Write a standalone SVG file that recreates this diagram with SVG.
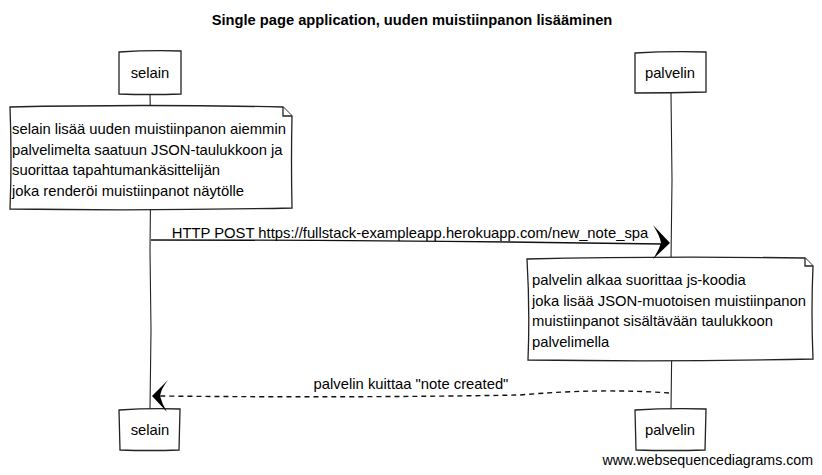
<svg xmlns="http://www.w3.org/2000/svg" width="822" height="475" viewBox="0 0 822 475">
<style>
  text { font-family: "Liberation Sans", Arial, sans-serif; font-size: 14.8px; fill: #000; }
  .title { font-size: 14.7px; font-weight: bold; }
  .foot { font-size: 14.2px; }
  .box { fill: #fff; stroke: #222; stroke-width: 1.3; }
  .life { fill: none; stroke: #222; stroke-width: 1.1; }
  .msg { fill: none; stroke: #111; stroke-width: 1.4; }
  .dash { stroke-dasharray: 5 4; }
  .head { fill: #000; stroke: none; }
  .c { text-anchor: middle; }
</style>
<rect width="822" height="475" fill="#fff"/>
<text class="title c" x="412" y="25">Single page application, uuden muistiinpanon lisääminen</text>

<g id="lifelines">
  <path class="life" d="M150,94 L151,150 L150,250 L151,330 L150,409"/>
  <path class="life" d="M671,93 L672,180 L671,260 L672,330 L671,409"/>
</g>

<g id="selain-top">
  <path class="box" d="M119,52 Q150,50 181,51 L181,94 Q150,95 119,94 Z"/>
  <text class="c" x="150" y="78">selain</text>
</g>
<g id="palvelin-top">
  <path class="box" d="M635,53 Q670,51 706,52 L706,92 Q670,93 635,93 Z"/>
  <text class="c" x="670" y="78">palvelin</text>
</g>

<g id="note-selain">
  <path class="box" d="M10,107 Q140,104 283,107 L292,116 Q291,160 292,208 Q150,211 10,209 Q12,160 10,107 Z"/>
  <path class="box" d="M283,107 L283,116 L292,116"/>
  <text x="12" y="134">selain lisää uuden muistiinpanon aiemmin</text>
  <text x="12" y="155">palvelimelta saatuun JSON-taulukkoon ja</text>
  <text x="12" y="175">suorittaa tapahtumankäsittelijän</text>
  <text x="12" y="196">joka renderöi muistiinpanot näytölle</text>
</g>

<g id="note-palvelin">
  <path class="box" d="M527,259 Q660,256 805,258 L813,266 Q811,310 813,359 Q670,362 528,360 Q530,310 527,259 Z"/>
  <path class="box" d="M805,258 L805,266 L813,266"/>
  <text x="532" y="285">palvelin alkaa suorittaa js-koodia</text>
  <text x="532" y="306">joka lisää JSON-muotoisen muistiinpanon</text>
  <text x="532" y="326">muistiinpanot sisältävään taulukkoon</text>
  <text x="532" y="347">palvelimella</text>
</g>

<g id="selain-bottom">
  <path class="box" d="M119,410 Q150,408 180,409 L179,450 Q150,451 120,450 Z"/>
  <text class="c" x="150" y="435">selain</text>
</g>
<g id="palvelin-bottom">
  <path class="box" d="M635,410 Q670,408 706,409 L705,450 Q670,451 636,450 Z"/>
  <text class="c" x="670" y="435">palvelin</text>
</g>

<g id="connectors">
  <path class="msg" d="M151,240 Q400,240 662,244"/>
  <path class="head" d="M670,243 L653,225 Q660,236 661,243 Q659,250 653,259 Z"/>
  <text class="c" x="410" y="238">HTTP POST https://fullstack-exampleapp.herokuapp.com/new_note_spa</text>

  <path class="msg dash" d="M669,393 Q600,388 520,395 Q350,398 160,396"/>
  <path class="head" d="M152,396 L168,380 Q161,389 160,396 Q162,404 167,412 Z"/>
  <text class="c" x="411" y="389">palvelin kuittaa "note created"</text>
</g>

<text class="foot" x="813" y="465" text-anchor="end">www.websequencediagrams.com</text>
</svg>
